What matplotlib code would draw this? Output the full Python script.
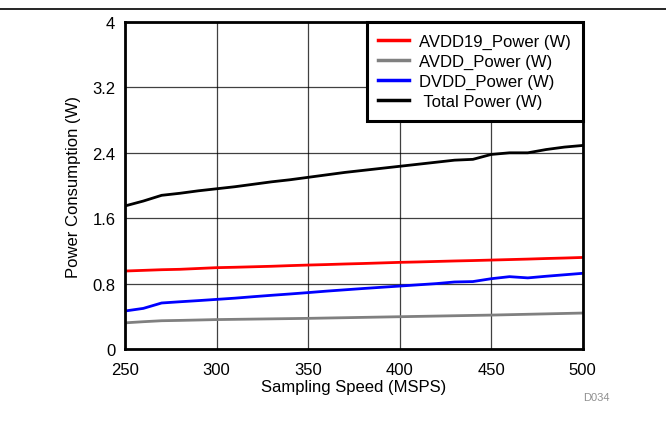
import matplotlib
matplotlib.use("Agg")
import matplotlib.pyplot as plt
from matplotlib.lines import Line2D

plt.rcParams['font.family'] = ['Liberation Sans', 'DejaVu Sans']

# Sampling speed (MSPS) and power readings (W)
speed = [250, 260, 270, 280, 290, 300, 310, 320, 330, 340, 350, 360, 370,
         380, 390, 400, 410, 420, 430, 440, 450, 460, 470, 480, 490, 500]
avdd19 = [0.954, 0.962, 0.970, 0.975, 0.985, 0.995, 1.000, 1.006, 1.012,
          1.020, 1.027, 1.033, 1.040, 1.046, 1.053, 1.060, 1.065, 1.071,
          1.077, 1.082, 1.088, 1.094, 1.100, 1.107, 1.113, 1.120]
avdd = [0.320, 0.334, 0.346, 0.350, 0.355, 0.360, 0.363, 0.366, 0.369,
        0.372, 0.375, 0.379, 0.383, 0.387, 0.391, 0.395, 0.399, 0.403,
        0.407, 0.411, 0.415, 0.420, 0.425, 0.430, 0.435, 0.440]
dvdd = [0.465, 0.497, 0.563, 0.578, 0.592, 0.607, 0.622, 0.640, 0.657,
        0.673, 0.690, 0.708, 0.724, 0.740, 0.755, 0.770, 0.785, 0.800,
        0.820, 0.825, 0.860, 0.885, 0.870, 0.890, 0.908, 0.926]
total = [1.750, 1.810, 1.880, 1.905, 1.935, 1.960, 1.985, 2.015, 2.045,
         2.070, 2.100, 2.130, 2.160, 2.185, 2.210, 2.235, 2.260, 2.285,
         2.310, 2.320, 2.380, 2.400, 2.400, 2.440, 2.470, 2.490]

series = [
    ("AVDD19_Power (W)", avdd19, "#ff0000"),
    ("AVDD_Power (W)", avdd, "#808080"),
    ("DVDD_Power (W)", dvdd, "#0000ff"),
    (" Total Power (W)", total, "#000000"),
]

fig = plt.figure(figsize=(6.66, 4.39), dpi=100)
ax = fig.add_axes([0.1877, 0.2027, 0.6873, 0.7449])

for label, vals, color in series:
    ax.plot(speed, vals, color=color, linewidth=2, label=label)

ax.set_xlim(250, 500)
ax.set_ylim(0, 4)
ax.set_xticks([250, 300, 350, 400, 450, 500])
ax.set_yticks([0, 0.8, 1.6, 2.4, 3.2, 4])
ax.set_yticklabels(["0", "0.8", "1.6", "2.4", "3.2", "4"])
ax.tick_params(length=0, labelsize=12)
ax.tick_params(axis="x", pad=9)
ax.tick_params(axis="y", pad=7)
ax.grid(True, color="#000000", linewidth=0.9, alpha=0.75)
for sp in ax.spines.values():
    sp.set_linewidth(2)

ax.set_xlabel("Sampling Speed (MSPS)", fontsize=12, labelpad=2)
ax.set_ylabel("Power Consumption (W)", fontsize=12, labelpad=8)

leg = ax.legend(loc="upper right", bbox_to_anchor=(1.0, 1.0), fontsize=12,
                frameon=True, fancybox=False, borderaxespad=0,
                handlelength=1.85, labelspacing=0.3, borderpad=0.7,
                handletextpad=0.6)
leg.get_frame().set_edgecolor("black")
leg.get_frame().set_linewidth(2.2)
leg.get_frame().set_alpha(1)
for line in leg.get_lines():
    line.set_linewidth(2.5)

fig.add_artist(Line2D([0, 1], [1 - 10 / 439, 1 - 10 / 439], color="black",
                      linewidth=1.2, transform=fig.transFigure))
fig.text(596 / 666, 1 - 398 / 439, "D034", fontsize=8, color="#909090",
         ha="center", va="center")

fig.savefig("out.png", dpi=100)
